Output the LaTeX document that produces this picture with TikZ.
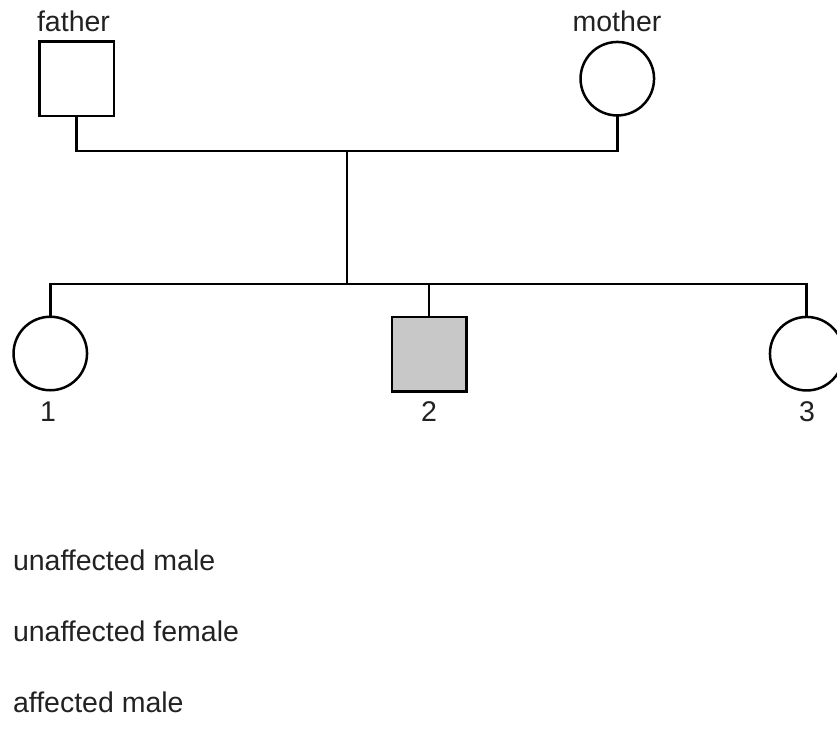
\documentclass[tikz,border=0pt]{standalone}
\usepackage{fontspec}
\setmainfont{Liberation Sans}
\definecolor{affgray}{HTML}{C8C8C8}
\definecolor{txt}{HTML}{222222}
\begin{document}
\begin{tikzpicture}[x=1pt,y=-1pt,
  every node/.style={inner sep=0pt, outer sep=0pt},
  lw/.style={line width=2.5pt},
  malesq/.style={draw, lw, rectangle, minimum size=74.5pt},
  femcirc/.style={draw, lw, circle, minimum size=73.5pt},
  lbl/.style={anchor=base, text=txt, font=\fontsize{28.5}{34}\selectfont},
  leg/.style={anchor=base west, text=txt, font=\fontsize{28.5}{34}\selectfont}]
\useasboundingbox[fill=white] (0,0) rectangle (837,733);
% parents
\node[malesq] (father) at (76.5,79) {};
\node[femcirc] (mother) at (617.3,78.7) {};
\node[lbl] (fatherlbl) at (73.5,32) {father};
\node[lbl] (motherlbl) at (617,32) {mother};
% children
\node[femcirc] (c1) at (50.3,353.5) {};
\node[malesq, fill=affgray] (c2) at (429.2,354) {};
\node[femcirc] (c3) at (806.7,353.7) {};
\node[lbl] (n1) at (48,421) {1};
\node[lbl] (n2) at (429,421) {2};
\node[lbl] (n3) at (807,421) {3};
% connectors
\coordinate (mate) at (347,151);
\coordinate (sib) at (347,284);
\draw[lw] (father.south) |- (mate) -| (mother.south);
\draw[lw] (mate) -- (sib);
\draw[lw] (c1.north) |- (sib) -| (c3.north);
\draw[lw] (sib) -| (c2.north);
% legend
\node[leg] (l1) at (13,570) {unaffected male};
\node[leg] (l2) at (13,641) {unaffected female};
\node[leg] (l3) at (13,712) {affected male};
\end{tikzpicture}
\end{document}
